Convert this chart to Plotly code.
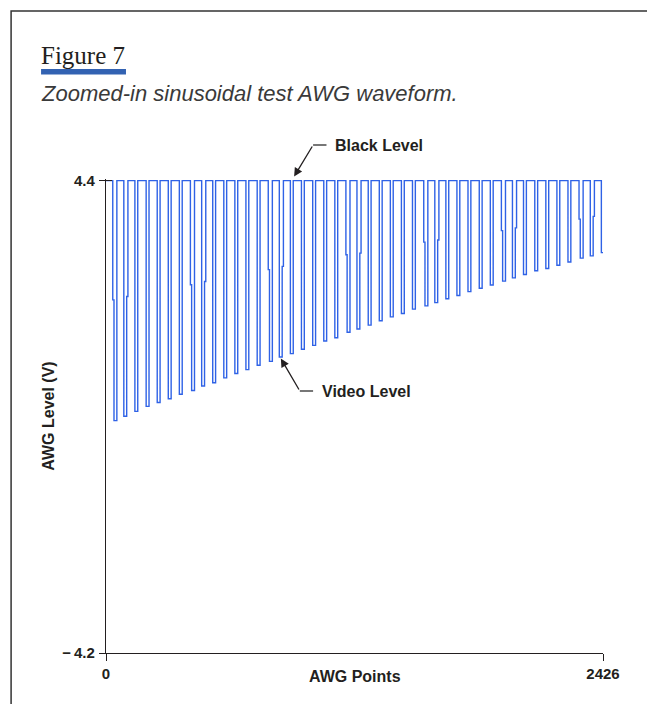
import plotly.graph_objects as go

# ---------------- data ----------------
x_range = [0, 2426]
x_tick_vals = [0, 2426]
x_tick_text = ["0", "2426"]
y_tick_vals = [-4.2, 4.4]
y_tick_text = ["\u2212\u20094.2", "4.4"]

black_level = 4.4
# AWG point where each pulse leaves the black level
pulse_starts = [33, 87, 141, 196, 250, 304, 358, 412, 467, 521, 575, 629, 683, 738, 792,
                846, 900, 954, 1009, 1063, 1117, 1171, 1225, 1280, 1334, 1388, 1442, 1496,
                1551, 1605, 1659, 1713, 1767, 1822, 1876, 1930, 1984, 2038, 2093, 2147, 2201,
                2255, 2309, 2364, 2418]
# video level reached by each pulse (V)
video_levels = [0.03, 0.11, 0.20, 0.29, 0.36, 0.43, 0.51, 0.58, 0.66, 0.72, 0.81, 0.89, 0.96,
                1.04, 1.11, 1.19, 1.25, 1.33, 1.40, 1.48, 1.54, 1.64, 1.70, 1.77, 1.85, 1.92,
                1.98, 2.06, 2.12, 2.18, 2.25, 2.31, 2.38, 2.44, 2.50, 2.57, 2.63, 2.69, 2.76,
                2.80, 2.86, 2.92, 2.99, 3.03, 3.09]
pulse_width = 14      # AWG points at video level
sample_step = 6       # AWG points of an intermediate sample
# pulses whose falling edge has an intermediate sample, and its level
fall_step_pulses = [0, 7, 14, 21, 28, 35, 42]
fall_step_levels = [2.23, 2.505, 2.78, 3.05, 3.28, 3.49, 3.70]
# pulses whose rising edge has an intermediate sample, and its level
rise_step_pulses = [1, 8, 15, 22, 29, 36, 43]
rise_step_levels = [2.29, 2.565, 2.84, 3.08, 3.32, 3.54, 3.75]

# ---------------- build the waveform path ----------------
fall_map = dict(zip(fall_step_pulses, fall_step_levels))
rise_map = dict(zip(rise_step_pulses, rise_step_levels))
xs = [0]
ys = [black_level]
for i, (f, v) in enumerate(zip(pulse_starts, video_levels)):
    if i in fall_map:
        m = fall_map[i]
        a = f + sample_step
        xs += [f, f, a, a, a + pulse_width, a + pulse_width]
        ys += [black_level, m, m, v, v, black_level]
    elif i in rise_map:
        m = rise_map[i]
        r = f + pulse_width
        xs += [f, f, r, r, r + sample_step, r + sample_step]
        ys += [black_level, v, v, m, m, black_level]
    else:
        xs += [f, f, f + pulse_width, f + pulse_width]
        ys += [black_level, v, v, black_level]

INK = "#231f20"
SANS = "Liberation Sans, Arial, sans-serif"

# The page body has an 8 px margin, so the figure is 8 px smaller and all
# page-pixel positions below are given in window coordinates.
OFF = 8
W, H = 655 - OFF, 704 - OFF
L, R, T, B = 106, 603.5, 179, 653          # plot area in window pixels

def px_x(px):
    return (px - L) / (R - L)

def px_y(py):
    return (B - py) / (B - T)

fig = go.Figure()
fig.add_trace(go.Scatter(x=xs, y=ys, mode="lines",
                         line=dict(color="#2f62e6", width=1.4),
                         showlegend=False, hoverinfo="skip"))
fig.add_trace(go.Scatter(x=[None], y=[None], xaxis="x2", yaxis="y2",
                         showlegend=False, hoverinfo="skip"))

y_range = [-4.2, 4.43]
fig.update_layout(
    width=W, height=H,
    margin=dict(l=L - OFF, r=W - (R - OFF), t=T - OFF, b=H - (B - OFF), pad=0),
    paper_bgcolor="white", plot_bgcolor="white",
    xaxis=dict(range=x_range, tickvals=x_tick_vals, ticktext=x_tick_text,
               showline=True, linecolor=INK, linewidth=1.3,
               ticks="outside", ticklen=7, tickwidth=1.3, tickcolor=INK,
               tickfont=dict(family=SANS, size=15, color=INK, weight="bold"),
               showgrid=False, zeroline=False),
    yaxis=dict(range=y_range, tickvals=y_tick_vals, ticktext=y_tick_text,
               showline=True, linecolor=INK, linewidth=1.3,
               ticks="outside", ticklen=6, tickwidth=1.3, tickcolor=INK,
               ticklabelstandoff=1,
               tickfont=dict(family=SANS, size=15, color=INK, weight="bold"),
               title=dict(text="AWG Level (V)", standoff=3,
                          font=dict(family=SANS, size=16, color=INK, weight="bold")),
               showgrid=False, zeroline=False),
    xaxis2=dict(overlaying="x", anchor="y", side="bottom", range=x_range,
                tickvals=x_tick_vals, ticks="inside", ticklen=7, tickwidth=1.3,
                tickcolor=INK, showticklabels=False, showline=False,
                showgrid=False, zeroline=False),
    yaxis2=dict(overlaying="y", anchor="x", side="left", range=y_range,
                tickvals=y_tick_vals, ticks="inside", ticklen=6, tickwidth=1.3,
                tickcolor=INK, showticklabels=False, showline=False,
                showgrid=False, zeroline=False),
)

annotations = []
shapes = []
# outer frame
shapes.append(dict(type="rect", xref="paper", yref="paper",
                   x0=px_x(11), x1=px_x(653.5), y0=px_y(706), y1=px_y(11),
                   line=dict(color="#333333", width=1.5), layer="below"))
# title bar
shapes.append(dict(type="rect", xref="paper", yref="paper",
                   x0=px_x(41), x1=px_x(126), y0=px_y(74.5), y1=px_y(69),
                   fillcolor="#3262b2", line=dict(width=0)))
annotations.append(dict(xref="paper", yref="paper", x=px_x(39), y=px_y(55),
                        xanchor="left", yanchor="middle", showarrow=False,
                        text="Figure 7",
                        font=dict(family="Liberation Serif, DejaVu Serif, serif", size=25, color=INK)))
annotations.append(dict(xref="paper", yref="paper", x=px_x(39), y=px_y(93),
                        xanchor="left", yanchor="middle", showarrow=False,
                        text="<i>Zoomed-in sinusoidal test AWG waveform.</i>",
                        font=dict(family=SANS, size=22, color="#3a3a3a")))
# x axis title on the tick-label row
annotations.append(dict(xref="paper", yref="paper", x=0.5, y=px_y(676),
                        xanchor="center", yanchor="middle", showarrow=False,
                        text="AWG Points",
                        font=dict(family=SANS, size=16, color=INK, weight="bold")))

# call-outs: (text, arrow tip, elbow, end of horizontal leader, text left) in window px
callouts = [
    ("Black Level", (294.3, 176.5), (313.3, 145), 326.7, 333),
    ("Video Level", (281.0, 358.5), (300.0, 391), 313.3, 320),
]
for text, (tx, ty), (ex, ey), endx, textx in callouts:
    annotations.append(dict(xref="paper", yref="paper", x=px_x(tx), y=px_y(ty),
                            axref="pixel", ayref="pixel", ax=ex - tx, ay=ey - ty,
                            text="", showarrow=True, arrowhead=2, arrowsize=1.3,
                            arrowwidth=1.3, arrowcolor=INK, standoff=0, startstandoff=0))
    shapes.append(dict(type="line", xref="paper", yref="paper",
                       x0=px_x(ex), x1=px_x(endx), y0=px_y(ey), y1=px_y(ey),
                       line=dict(color="#555555", width=1.6)))
    annotations.append(dict(xref="paper", yref="paper", x=px_x(textx), y=px_y(ey),
                            xanchor="left", yanchor="middle", showarrow=False,
                            text=text,
                            font=dict(family=SANS, size=16, color=INK, weight="bold")))

fig.update_layout(annotations=annotations, shapes=shapes)
fig.write_html("out.html")
